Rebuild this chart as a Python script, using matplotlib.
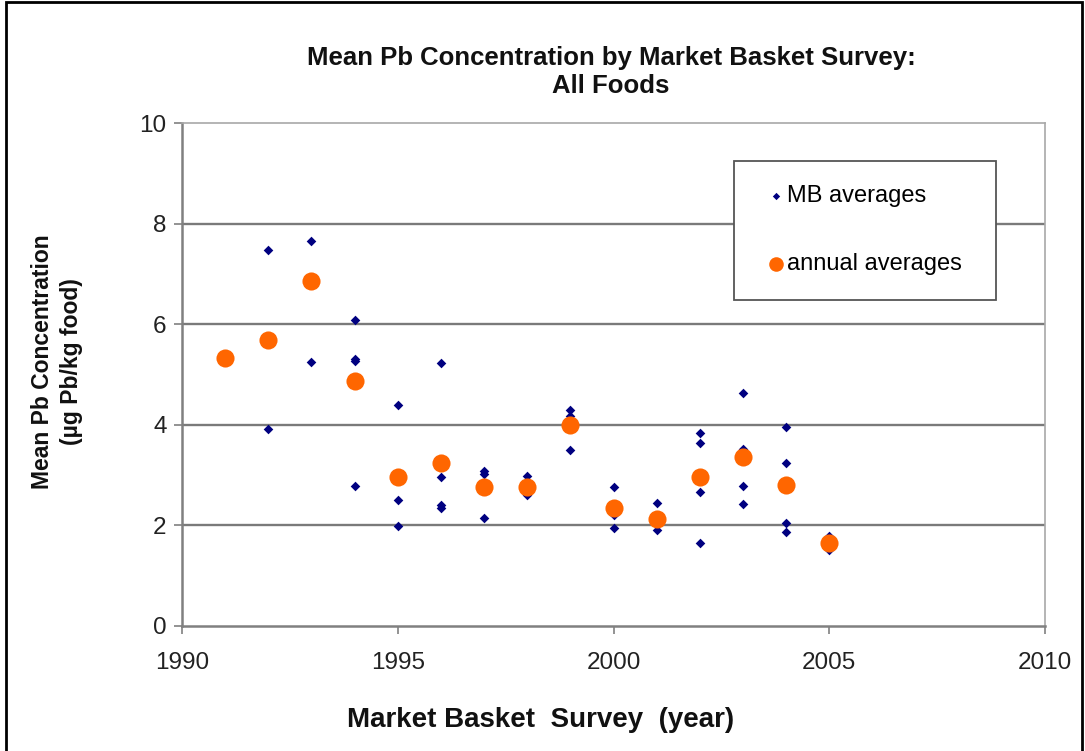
import matplotlib
matplotlib.use("Agg")
import matplotlib.pyplot as plt
from matplotlib.patches import Rectangle

plt.rcParams['font.family'] = ['Liberation Sans', 'DejaVu Sans']

# MB averages (individual market basket surveys)
mb_years = [1992, 1992,
            1993, 1993,
            1994, 1994, 1994, 1994,
            1995, 1995, 1995,
            1996, 1996, 1996, 1996,
            1997, 1997, 1997,
            1998, 1998,
            1999, 1999, 1999,
            2000, 2000, 2000,
            2001, 2001,
            2002, 2002, 2002, 2002,
            2003, 2003, 2003, 2003,
            2004, 2004, 2004, 2004,
            2005, 2005]
mb_values = [7.47, 3.91,
             7.66, 5.24,
             6.09, 5.30, 5.26, 2.79,
             4.39, 2.50, 1.99,
             5.22, 2.97, 2.40, 2.35,
             3.08, 3.02, 2.14,
             2.98, 2.60,
             4.29, 4.18, 3.50,
             2.76, 2.20, 1.94,
             2.45, 1.90,
             3.84, 3.64, 2.66, 1.66,
             4.63, 3.51, 2.78, 2.42,
             3.96, 3.25, 2.05, 1.86,
             1.78, 1.52]

# annual averages
annual_years = [1991, 1992, 1993, 1994, 1995, 1996, 1997, 1998, 1999,
                2000, 2001, 2002, 2003, 2004, 2005]
annual_values = [5.33, 5.69, 6.86, 4.87, 2.97, 3.25, 2.77, 2.77, 3.99,
                 2.35, 2.13, 2.97, 3.35, 2.80, 1.66]

x_ticks = [1990, 1995, 2000, 2005, 2010]
y_ticks = [0, 2, 4, 6, 8, 10]

W, H = 1085, 751
fig = plt.figure(figsize=(W / 100, H / 100), dpi=100)
ax = fig.add_axes([182 / W, 1 - 626 / H, (1045 - 182) / W, (626 - 123) / H])

ax.scatter(mb_years, mb_values, marker='D', s=24, color='#000080',
           linewidths=0, zorder=3, label='MB averages')
ax.scatter(annual_years, annual_values, marker='o', s=170, color='#FF6600',
           linewidths=0, zorder=4, label='annual averages')

ax.set_xlim(1990, 2010)
ax.set_ylim(0, 10)
ax.set_xticks(x_ticks)
ax.set_yticks(y_ticks)
ax.tick_params(axis='both', labelsize=17.5, color='#808080', length=6,
               width=1.2, direction='out', labelcolor='#222222')
ax.tick_params(axis='x', pad=13)
ax.tick_params(axis='y', pad=5)

for y in [2, 4, 6, 8]:
    ax.axhline(y, color='#7a7a7a', lw=1.7, zorder=1)
for sp in ax.spines.values():
    sp.set_color('#a8a8a8')
    sp.set_linewidth(1.2)
ax.spines['left'].set_color('#808080')
ax.spines['bottom'].set_color('#808080')
ax.spines['left'].set_linewidth(1.8)
ax.spines['bottom'].set_linewidth(1.8)

fig.text(611 / W, 1 - 72 / H,
         'Mean Pb Concentration by Market Basket Survey:\nAll Foods',
         ha='center', va='center', fontsize=18.5, fontweight='bold',
         linespacing=1.2, color='#111111')

fig.text(57 / W, 1 - 362 / H, 'Mean Pb Concentration\n(µg Pb/kg food)',
         rotation=90, ha='center', va='center', fontsize=16.5,
         fontweight='bold', linespacing=1.3, color='#111111')

fig.text(541 / W, 1 - 720 / H, 'Market Basket  Survey  (year)',
         ha='center', va='center', fontsize=20, fontweight='bold',
         color='#111111')

# legend box (white, framed) hiding the grid line behind it
box = Rectangle(((734 - 182) / 863, (626 - 300) / 503), 262 / 863, 139 / 503,
                transform=ax.transAxes, facecolor='white', edgecolor='#555555',
                linewidth=1.3, zorder=5, clip_on=False)
ax.add_patch(box)

leg = ax.legend(loc='center left',
                bbox_to_anchor=((766.5 - 182) / 863, (626 - 230) / 503),
                borderaxespad=0, borderpad=0, frameon=False,
                fontsize=17, labelspacing=1.97,
                handletextpad=0.05, handlelength=0.8)
leg.legend_handles[0].set_sizes([14])
leg.legend_handles[1].set_sizes([110])
leg.set_zorder(6)

# outer frame of the figure
fig.patches.append(Rectangle((6 / W, -0.01), (1082 - 6) / W, 1 - 2 / H + 0.01,
                             transform=fig.transFigure, fill=False,
                             edgecolor='black', linewidth=2))

fig.savefig('out.png', dpi=100)
